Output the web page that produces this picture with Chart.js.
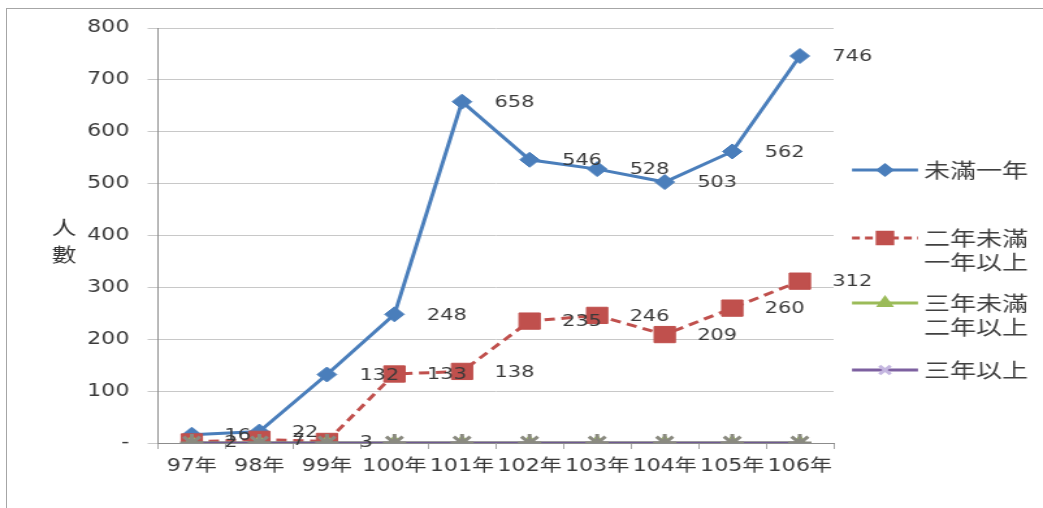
<!DOCTYPE html>
<html><head><meta charset="utf-8">
<script src="https://cdn.jsdelivr.net/npm/chart.js@4/dist/chart.umd.min.js"></script>
<style>
html,body{margin:0;padding:0;background:#fff;overflow:hidden;width:1043px;height:508px}
#frame{position:absolute;left:6px;top:8px;width:1040px;height:502px;border-left:1px solid #a6a6a6;border-top:1px solid #a6a6a6}
#c{position:absolute;left:0;top:0}
</style></head>
<body>
<div id="frame"></div>
<canvas id="c" width="802" height="508" style="width:1043px;height:508px"></canvas>
<script>
// ---- data ----
const categories = ['97年','98年','99年','100年','101年','102年','103年','104年','105年','106年'];
const underOneYear = [16, 22, 132, 248, 658, 546, 528, 503, 562, 746];
const oneToTwoYears = [2, 7, 3, 133, 138, 235, 246, 209, 260, 312];
const twoToThreeYears = [0, 0, 0, 0, 0, 0, 0, 0, 0, 0];
const overThreeYears = [0, 0, 0, 0, 0, 0, 0, 0, 0, 0];
const seriesNames = [['未滿一年'], ['二年未滿','一年以上'], ['三年未滿','二年以上'], ['三年以上']];
const yTickValues = [0, 100, 200, 300, 400, 500, 600, 700, 800];
const yTitle = ['人', '數'];

const SX = 1043 / 802; // horizontal stretch of the picture
const BLUE = '#4a7ebb', RED = '#c0504d', GREEN = '#9bbb59', PURPLE = '#7d60a0';
const TXT = '#3a3a3a';
const NUMFONT = '16px "DejaVu Sans"';

const labelPlugin = {
  id: 'valueLabels',
  afterDatasetsDraw(chart) {
    const ctx = chart.ctx;
    ctx.save();
    ctx.font = NUMFONT;
    ctx.fillStyle = TXT;
    ctx.textAlign = 'left';
    ctx.textBaseline = 'middle';
    [0, 1].forEach(di => {
      const meta = chart.getDatasetMeta(di);
      const data = chart.data.datasets[di].data;
      meta.data.forEach((pt, i) => {
        ctx.fillText(String(data[i]), pt.x + 25, pt.y + 1);
      });
    });
    ctx.restore();
  }
};

const extrasPlugin = {
  id: 'extras',
  afterDraw(chart) {
    const ctx = chart.ctx;
    ctx.save();
    // y title
    ctx.font = '19px "Noto Sans CJK TC"';
    ctx.fillStyle = '#333';
    ctx.textAlign = 'center';
    ctx.textBaseline = 'middle';
    ctx.fillText(yTitle[0], 64 / SX, 228);
    ctx.fillText(yTitle[1], 64 / SX, 255);
    // legend
    const items = [
      {y: 170, color: BLUE, dash: [], style: 'rectRot', r: 5},
      {y: 238, color: RED, dash: [6, 4], style: 'rect', r: 8},
      {y: 303, color: GREEN, dash: [], style: 'triangle', r: 5},
      {y: 370, color: PURPLE, dash: [], style: 'crossRot', r: 6}
    ];
    const x0 = 852 / SX, x1 = 918 / SX, tx = 924 / SX;
    items.forEach((it, k) => {
      ctx.strokeStyle = it.color;
      ctx.lineWidth = 3;
      ctx.setLineDash(it.dash);
      ctx.beginPath();
      ctx.moveTo(x0, it.y);
      ctx.lineTo(x1, it.y);
      ctx.stroke();
      ctx.setLineDash([]);
      ctx.fillStyle = it.color;
      ctx.strokeStyle = k === 3 ? '#c4b6e0' : it.color;
      Chart.helpers.drawPoint(ctx, {pointStyle: it.style, radius: it.r, rotation: 0, borderWidth: k === 3 ? 1.5 : 1}, (x0 + x1) / 2, it.y);
      ctx.font = '20px "Noto Sans CJK TC"';
      ctx.fillStyle = '#404040';
      ctx.textAlign = 'left';
      ctx.textBaseline = 'middle';
      seriesNames[k].forEach((line, j) => ctx.fillText(line, tx, it.y + j * 24));
    });
    ctx.restore();
  }
};

new Chart(document.getElementById('c'), {
  type: 'line',
  data: {
    labels: categories,
    datasets: [
      {label: seriesNames[0].join(''), data: underOneYear, borderColor: BLUE, backgroundColor: BLUE,
       borderWidth: 3, pointStyle: 'rectRot', pointRadius: 7.5, pointBorderWidth: 1, order: 4, tension: 0},
      {label: seriesNames[1].join(''), data: oneToTwoYears, borderColor: RED, backgroundColor: RED,
       borderWidth: 3, borderDash: [8, 5], pointStyle: 'rect', pointRadius: 11.5, pointBorderWidth: 1, order: 3, tension: 0},
      {label: seriesNames[2].join(''), data: twoToThreeYears, borderColor: GREEN, backgroundColor: GREEN,
       borderWidth: 3, pointStyle: 'triangle', pointRadius: 8, pointBorderWidth: 1, order: 2, tension: 0},
      {label: seriesNames[3].join(''), data: overThreeYears, borderColor: '#6f5a92', backgroundColor: PURPLE,
       borderWidth: 3, pointStyle: 'star', pointRadius: 9, pointBorderColor: '#8a8a80', pointBorderWidth: 3, order: 1, tension: 0}
    ]
  },
  options: {
    responsive: false,
    animation: false,
    devicePixelRatio: 1,
    layout: {padding: {left: 0, right: 161, top: 28, bottom: 0}},
    plugins: {legend: {display: false}, tooltip: {enabled: false}, title: {display: false}},
    scales: {
      x: {
        offset: true,
        grid: {display: true, drawOnChartArea: false, offset: true, tickLength: 6, color: '#a6a6a6'},
        border: {display: true, color: '#8c8c8c', width: 1},
        ticks: {color: TXT, font: {family: '"DejaVu Sans", "Noto Sans CJK TC"', size: 17}, padding: 7, maxRotation: 0, autoSkip: false},
        afterFit(s) { s.height = 65; }
      },
      y: {
        min: 0, max: 800,
        afterBuildTicks(s) { s.ticks = yTickValues.map(v => ({value: v})); },
        grid: {color: '#c8c8c8', lineWidth: 1, tickLength: 8, drawTicks: true},
        border: {display: true, color: '#8c8c8c', width: 1},
        ticks: {color: TXT, font: {family: '"DejaVu Sans"', size: 17}, padding: 14,
                callback: v => v === 0 ? '-' : String(v)},
        afterFit(s) { s.width = 121.5; }
      }
    }
  },
  plugins: [labelPlugin, extrasPlugin]
});
</script>
</body></html>
